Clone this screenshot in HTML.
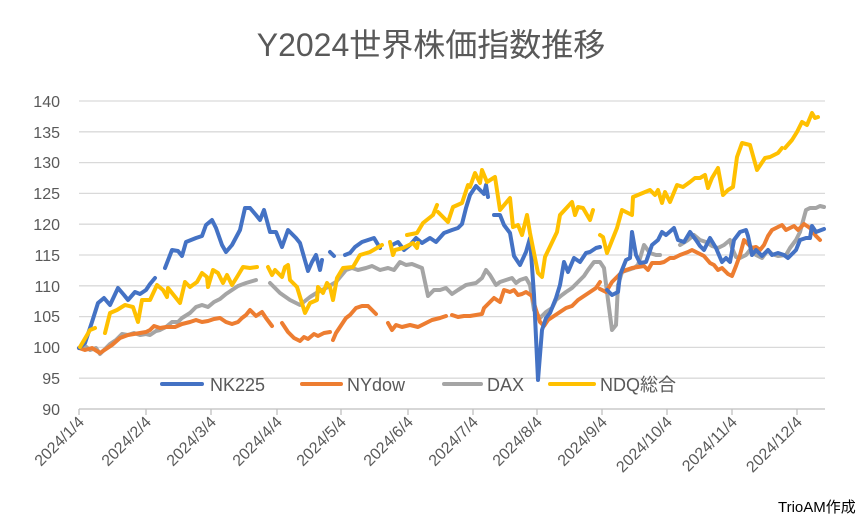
<!DOCTYPE html>
<html><head><meta charset="utf-8"><style>
html,body{margin:0;padding:0;background:#fff;}
svg{display:block;font-family:"Liberation Sans","Noto Sans CJK JP",sans-serif;}
</style></head><body>
<svg width="862" height="520" viewBox="0 0 862 520" xmlns="http://www.w3.org/2000/svg">
<rect width="862" height="520" fill="#fff"/>
<text x="431" y="56" text-anchor="middle" font-size="32" fill="#595959">Y2024世界株価指数推移</text>
<g stroke="#d9d9d9" stroke-width="1.3">
<line x1="79" y1="101" x2="825" y2="101"/><line x1="79" y1="131.8" x2="825" y2="131.8"/>
<line x1="79" y1="162.6" x2="825" y2="162.6"/><line x1="79" y1="193.4" x2="825" y2="193.4"/>
<line x1="79" y1="224.2" x2="825" y2="224.2"/><line x1="79" y1="255" x2="825" y2="255"/>
<line x1="79" y1="285.8" x2="825" y2="285.8"/><line x1="79" y1="316.6" x2="825" y2="316.6"/>
<line x1="79" y1="347.4" x2="825" y2="347.4"/><line x1="79" y1="378.2" x2="825" y2="378.2"/>
</g>
<line x1="79" y1="409" x2="825" y2="409" stroke="#bfbfbf" stroke-width="1.3"/>
<g stroke="#bfbfbf" stroke-width="1.3">
<line x1="79" y1="409" x2="79" y2="415"/><line x1="146" y1="409" x2="146" y2="415"/><line x1="211" y1="409" x2="211" y2="415"/><line x1="277" y1="409" x2="277" y2="415"/><line x1="341" y1="409" x2="341" y2="415"/><line x1="408" y1="409" x2="408" y2="415"/><line x1="473" y1="409" x2="473" y2="415"/><line x1="537" y1="409" x2="537" y2="415"/><line x1="602" y1="409" x2="602" y2="415"/><line x1="667" y1="409" x2="667" y2="415"/><line x1="732" y1="409" x2="732" y2="415"/><line x1="797" y1="409" x2="797" y2="415"/>
</g>
<g font-size="16" fill="#595959" text-anchor="end">
<text x="60" y="107">140</text><text x="60" y="138">135</text><text x="60" y="168">130</text><text x="60" y="199">125</text><text x="60" y="230">120</text><text x="60" y="261">115</text><text x="60" y="292">110</text><text x="60" y="322">105</text><text x="60" y="353">100</text><text x="60" y="384">95</text><text x="60" y="415">90</text>
</g>
<g font-size="16" fill="#595959" text-anchor="end">
<text transform="translate(85,423) rotate(-45)">2024/1/4</text>
<text transform="translate(152,423) rotate(-45)">2024/2/4</text>
<text transform="translate(217,423) rotate(-45)">2024/3/4</text>
<text transform="translate(283,423) rotate(-45)">2024/4/4</text>
<text transform="translate(347,423) rotate(-45)">2024/5/4</text>
<text transform="translate(414,423) rotate(-45)">2024/6/4</text>
<text transform="translate(479,423) rotate(-45)">2024/7/4</text>
<text transform="translate(543,423) rotate(-45)">2024/8/4</text>
<text transform="translate(608,423) rotate(-45)">2024/9/4</text>
<text transform="translate(673,423) rotate(-45)">2024/10/4</text>
<text transform="translate(738,423) rotate(-45)">2024/11/4</text>
<text transform="translate(803,423) rotate(-45)">2024/12/4</text>
</g>
<g fill="none" stroke-width="4" stroke-linejoin="round" stroke-linecap="round">
<polyline stroke="#a5a5a5" points="79,348 84,345 90,350 96,348 100,354 104,350 110,344 116,340 122,334 128,335 134,333 140,335 146,334 150,335 156,331 160,330 166,327 172,322 178,322 182,318 190,313 196,307 202,305 208,307 214,302 220,299 226,294 232,290 238,286 246,283 256,280"/>
<polyline stroke="#a5a5a5" points="270,283 280,293 290,300 300,305 310,297 318,292 326,288 336,282 346,270 352,268 358,270 366,268 372,266 380,270 388,268 394,270 400,262 406,265 412,264 422,268 428,296 434,290 440,290 446,288 452,294 458,290 466,285 476,283 482,278 486,270 490,275 496,285 500,282 506,280 512,278 516,283 520,280 526,278 530,285 534,310 540,318 546,312 552,308 556,300 562,295 566,292 572,288 578,282 584,276 588,270 594,262 600,262 604,268 608,300 612,330 616,325 618,285 622,272 628,270 634,268 638,265 644,245 650,253 656,255 660,255"/>
<polyline stroke="#a5a5a5" points="680,245 688,240 694,235 700,240 706,242 712,246 718,248 724,245 730,240 732,248 736,257 740,258 746,255 750,250 756,255 762,258 768,250 772,254 778,256 786,255 790,248 796,240 800,232 806,210 810,208 816,208 820,206 824,207"/>
<polyline stroke="#ed7d31" points="79,348 85,350 92,348 100,353 112,345 120,338 128,335 140,333 146,332 150,330 154,326 160,328 166,327 175,327 182,324 190,322 196,320 202,322 208,321 214,319 220,318 226,322 232,324 238,322 242,318 246,315 250,310 256,316 262,312 266,318 272,326"/>
<polyline stroke="#ed7d31" points="282,323 288,332 294,338 300,341 304,337 308,339 314,334 318,336 324,333 330,332"/>
<polyline stroke="#ed7d31" points="333,340 336,333 340,327 346,318 350,315 356,308 362,306 368,306 372,310 376,314"/>
<polyline stroke="#ed7d31" points="388,323 392,330 396,325 402,327 410,325 418,327 426,323 432,320 440,318 446,316"/>
<polyline stroke="#ed7d31" points="452,315 458,317 464,316 470,316 476,315 482,314 484,308 490,302 494,298 500,302 504,290 510,292 514,290 518,295 522,294 526,292 532,296 536,310 540,322 544,326 548,320 554,316 560,312 566,308 572,306 578,300 584,296 590,292 596,288 600,282"/>
<polyline stroke="#ed7d31" points="600,289 606,292 612,282 616,278 622,272 626,270 632,268 638,267 644,266 648,270 652,263 660,263 664,262 670,258 674,258 680,255 688,252 692,250 698,253 704,256 710,263 714,265 718,270 722,268 728,274 732,276 736,266 740,255 744,240 748,244 752,248 756,247 760,250 764,245 768,236 772,230 776,228 782,225 786,230 790,228 794,226 798,230 804,224 810,228 816,236 820,240"/>
<polyline stroke="#4472c4" points="79,348 85,343 92,322 98,303 104,298 110,305 118,288 124,295 128,300 135,292 140,294 146,290 150,284 155,278"/>
<polyline stroke="#4472c4" points="165,268 172,250 178,251 182,256 186,242 196,238 202,236 206,225 212,220 216,228 222,245 226,252 232,245 240,230 245,208 250,208 256,215 260,220 264,210 270,232 276,232 282,247 288,230 296,238 300,243 304,257 308,271 312,262 316,255 320,270 322,260"/>
<polyline stroke="#4472c4" points="330,252 334,256"/>
<polyline stroke="#4472c4" points="345,255 350,253 355,247 362,242 368,240 374,238 380,248"/>
<polyline stroke="#4472c4" points="392,245 398,242 404,250 410,245 416,238 422,243 430,238 436,242 444,233 452,230 458,228 462,224 466,208 470,195 476,186 480,190 484,194 486,185 488,197"/>
<polyline stroke="#4472c4" points="494,215 500,215 504,225 510,233 514,256 520,265 526,252 530,238 534,295 538,380 542,330 546,318 550,313 556,298 560,285 564,262 568,272 574,258 580,262 586,253 590,252 596,248 600,247"/>
<polyline stroke="#4472c4" points="607,290 612,295 618,292 620,275 626,260 630,258 632,232 636,255 640,263 646,262 652,245 658,240 662,232 666,235 674,228 678,240 684,242 690,232 696,240 700,246 704,250 710,238 716,248 722,262 726,258 730,262 734,240 740,232 746,230 748,236 752,255 756,250 762,256 768,250 772,255 778,253 784,255 788,258 792,254 796,250 800,240 806,238 810,238 812,226 816,232 824,229"/>
<polyline stroke="#ffc000" points="80,347 90,330 95,328"/>
<polyline stroke="#ffc000" points="105,333 110,313 117,310 125,305 133,307 138,322 142,300 150,300 157,285 163,290 167,297 168,288 172,293 180,303 185,282 190,287 197,282 202,273 207,277 208,287 213,270 218,273 223,283 227,275 232,285 237,277 243,267 250,268 257,267"/>
<polyline stroke="#ffc000" points="268,267 272,275 275,270 282,277 285,267 288,265 290,280 297,287 305,313 310,303 317,300 318,287 323,293 327,283 330,287 333,300 337,278 343,268 353,267 360,255 370,252 382,245"/>
<polyline stroke="#ffc000" points="390,242 393,255 395,250 403,248 413,243 417,248 418,243"/>
<polyline stroke="#ffc000" points="407,235 417,233 423,223 433,215 437,205"/>
<polyline stroke="#ffc000" points="438,212 448,222 453,207 462,203 468,185 470,187 475,173 480,183 482,170 487,182 495,177 500,210 510,198 513,227 518,225 522,235 527,215 530,233 538,273 542,277 545,257 557,232 560,215 572,202 575,215 578,207 583,208 590,220 593,210"/>
<polyline stroke="#ffc000" points="600,235 603,237 607,253 617,228 622,210 632,215 633,197 650,190 655,195 658,190 662,203 665,192 670,202 677,185 683,187 690,182 695,178 700,178 705,175 708,188 712,178 718,168 723,195 728,190 733,187 737,157 742,143 750,145 757,170 765,158 770,157 778,153 782,148"/>
<polyline stroke="#ffc000" points="785,148 792,140 797,132 802,122 807,125 812,113 815,118 818,117"/>
</g>
<g stroke-width="4" stroke-linecap="round">
<line x1="162" y1="384" x2="202" y2="384" stroke="#4472c4"/>
<line x1="302" y1="384" x2="341" y2="384" stroke="#ed7d31"/>
<line x1="444" y1="384" x2="481" y2="384" stroke="#a5a5a5"/>
<line x1="550" y1="384" x2="594" y2="384" stroke="#ffc000"/>
</g>
<g font-size="18" fill="#595959">
<text x="210" y="391">NK225</text>
<text x="347" y="391">NYdow</text>
<text x="487" y="391">DAX</text>
<text x="600" y="391">NDQ総合</text>
</g>
<text x="778" y="512" font-size="15" fill="#000">TrioAM作成</text>
</svg>
</body></html>
